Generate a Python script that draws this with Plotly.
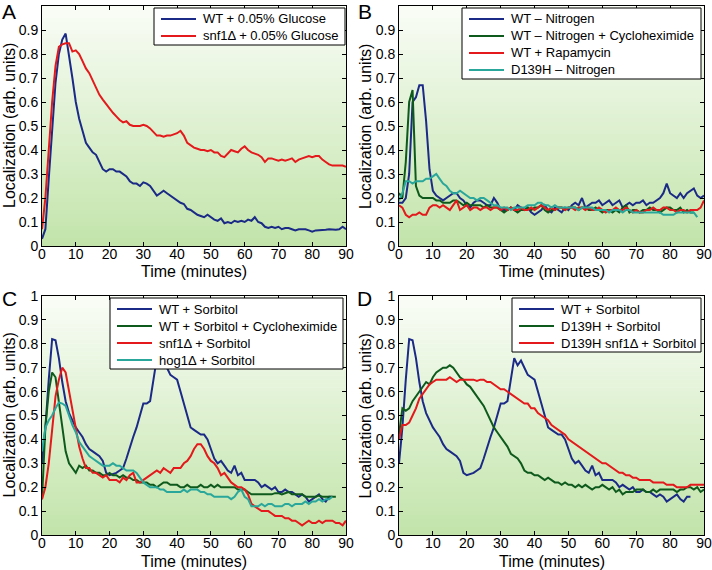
import plotly.graph_objects as go

# ---------------- data ----------------
A_wt = [0.03,0.07,0.28,0.50,0.68,0.80,0.86,0.885,0.80,0.70,
        0.60,0.53,0.48,0.43,0.41,0.39,0.38,0.35,0.32,0.31,
        0.32,0.32,0.31,0.31,0.30,0.29,0.27,0.26,0.26,0.25,
        0.265,0.26,0.25,0.23,0.21,0.22,0.23,0.22,0.21,0.20,
        0.19,0.18,0.175,0.155,0.15,0.14,0.13,0.125,0.12,0.13,
        0.12,0.11,0.105,0.115,0.095,0.10,0.095,0.105,0.10,0.105,
        0.10,0.11,0.105,0.12,0.10,0.095,0.08,0.075,0.08,0.075,
        0.08,0.07,0.075,0.075,0.07,0.065,0.07,0.07,0.07,0.065,
        0.06,0.065,0.065,0.065,0.068,0.07,0.068,0.068,0.07,0.08,0.07]
A_snf1 = [0.07,0.20,0.40,0.60,0.75,0.83,0.84,0.845,0.845,0.81,
          0.815,0.80,0.77,0.74,0.72,0.69,0.66,0.63,0.61,0.59,
          0.57,0.555,0.54,0.525,0.515,0.52,0.505,0.50,0.50,0.50,
          0.505,0.50,0.49,0.475,0.46,0.46,0.455,0.46,0.46,0.465,
          0.47,0.48,0.46,0.43,0.42,0.41,0.405,0.40,0.40,0.395,
          0.40,0.39,0.39,0.375,0.37,0.385,0.40,0.395,0.39,0.405,
          0.415,0.40,0.39,0.385,0.38,0.37,0.35,0.365,0.365,0.36,
          0.355,0.36,0.355,0.36,0.365,0.35,0.36,0.365,0.37,0.375,
          0.37,0.375,0.375,0.36,0.35,0.34,0.335,0.335,0.335,0.335,0.33]

B_wt = [0.18,0.18,0.20,0.30,0.60,0.62,0.67,0.67,0.52,0.32,
        0.23,0.21,0.20,0.19,0.20,0.21,0.22,0.22,0.20,0.19,
        0.17,0.16,0.18,0.19,0.19,0.18,0.17,0.17,0.20,0.18,
        0.15,0.15,0.15,0.16,0.15,0.17,0.16,0.15,0.16,0.14,
        0.13,0.14,0.15,0.17,0.15,0.14,0.16,0.15,0.14,0.16,
        0.15,0.17,0.18,0.17,0.20,0.16,0.17,0.18,0.18,0.19,
        0.17,0.18,0.19,0.17,0.18,0.19,0.16,0.17,0.18,0.17,
        0.18,0.18,0.19,0.17,0.18,0.18,0.19,0.20,0.22,0.26,
        0.22,0.21,0.20,0.22,0.20,0.22,0.23,0.24,0.21,0.20,0.21]
B_cyc = [0.22,0.20,0.35,0.60,0.65,0.25,0.21,0.20,0.20,0.20,
         0.20,0.19,0.19,0.18,0.18,0.18,0.19,0.19,0.18,0.17,
         0.18,0.17,0.17,0.17,0.17,0.16,0.17,0.16,0.16,0.16,
         0.15,0.14,0.15,0.16,0.15,0.14,0.15,0.15,0.16,0.15,
         0.16,0.16,0.17,0.15,0.14,0.15,0.15,0.16,0.16,0.15,
         0.16,0.16,0.16,0.15,0.16,0.16,0.15,0.15,0.16,0.15,
         0.14,0.15,0.15,0.14,0.15,0.14,0.16,0.17,0.14,0.15,
         0.15,0.14,0.15,0.15,0.16,0.15,0.15,0.14,0.15,0.16,
         0.16,0.15,0.15,0.16,0.14,0.15,0.14,0.14]
B_rap = [0.17,0.16,0.13,0.12,0.13,0.13,0.14,0.13,0.13,0.16,
         0.17,0.17,0.16,0.17,0.16,0.15,0.17,0.19,0.15,0.16,
         0.17,0.15,0.16,0.16,0.15,0.16,0.16,0.15,0.16,0.16,
         0.15,0.16,0.15,0.16,0.15,0.15,0.16,0.15,0.15,0.16,
         0.15,0.16,0.17,0.16,0.15,0.16,0.15,0.16,0.16,0.15,
         0.16,0.16,0.15,0.16,0.16,0.15,0.16,0.15,0.15,0.16,
         0.15,0.14,0.15,0.15,0.16,0.15,0.15,0.16,0.15,0.14,
         0.15,0.14,0.14,0.15,0.15,0.16,0.15,0.15,0.16,0.16,
         0.15,0.15,0.14,0.15,0.15,0.14,0.15,0.15,0.15,0.16,0.19]
B_d139 = [0.19,0.22,0.27,0.27,0.26,0.27,0.27,0.27,0.28,0.28,
          0.29,0.30,0.28,0.26,0.25,0.23,0.22,0.22,0.23,0.22,
          0.21,0.20,0.20,0.19,0.20,0.20,0.19,0.18,0.17,0.17,
          0.16,0.16,0.16,0.15,0.16,0.16,0.16,0.16,0.17,0.17,
          0.17,0.18,0.18,0.17,0.17,0.16,0.17,0.16,0.16,0.16,
          0.16,0.16,0.16,0.15,0.16,0.16,0.16,0.16,0.15,0.15,
          0.15,0.15,0.14,0.15,0.15,0.15,0.14,0.15,0.15,0.14,
          0.14,0.14,0.14,0.14,0.14,0.14,0.14,0.14,0.13,0.13,
          0.13,0.13,0.14,0.14,0.14,0.14,0.14,0.14,0.12]

WT_sorb = [0.30,0.45,0.65,0.82,0.815,0.74,0.64,0.56,0.51,0.48,
           0.45,0.43,0.41,0.38,0.36,0.35,0.34,0.33,0.31,0.26,
           0.25,0.255,0.26,0.27,0.28,0.32,0.37,0.41,0.45,0.50,
           0.55,0.55,0.56,0.65,0.74,0.71,0.73,0.70,0.67,0.66,
           0.65,0.60,0.55,0.50,0.45,0.44,0.43,0.42,0.42,0.40,
           0.36,0.32,0.30,0.31,0.29,0.27,0.26,0.29,0.25,0.26,
           0.23,0.23,0.23,0.23,0.22,0.20,0.21,0.20,0.19,0.20,
           0.18,0.18,0.19,0.18,0.18,0.17,0.16,0.17,0.16,0.14,
           0.15,0.16,0.17,0.15,0.14,0.16,0.16]
C_cyc = [0.15,0.45,0.60,0.68,0.66,0.55,0.45,0.35,0.30,0.28,
         0.26,0.29,0.28,0.29,0.27,0.27,0.26,0.26,0.25,0.25,
         0.26,0.25,0.25,0.24,0.25,0.24,0.24,0.23,0.23,0.22,
         0.22,0.22,0.21,0.21,0.20,0.21,0.22,0.22,0.21,0.21,
         0.21,0.20,0.20,0.21,0.20,0.20,0.20,0.21,0.20,0.20,
         0.21,0.20,0.21,0.20,0.20,0.20,0.20,0.20,0.19,0.19,
         0.19,0.18,0.17,0.17,0.17,0.17,0.17,0.17,0.17,0.175,
         0.175,0.17,0.175,0.18,0.17,0.17,0.17,0.17,0.16,0.16,
         0.16,0.16,0.165,0.16,0.16,0.16,0.16,0.16]
C_snf1 = [0.15,0.20,0.30,0.45,0.58,0.65,0.70,0.68,0.60,0.52,
          0.45,0.37,0.32,0.28,0.28,0.26,0.26,0.25,0.24,0.25,
          0.23,0.23,0.23,0.22,0.24,0.23,0.25,0.26,0.22,0.22,
          0.23,0.24,0.25,0.26,0.27,0.26,0.28,0.27,0.26,0.28,
          0.28,0.28,0.30,0.31,0.33,0.36,0.38,0.38,0.36,0.33,
          0.31,0.30,0.28,0.25,0.26,0.24,0.22,0.21,0.20,0.20,
          0.19,0.17,0.13,0.12,0.11,0.10,0.10,0.10,0.09,0.08,
          0.08,0.08,0.07,0.07,0.06,0.06,0.05,0.04,0.05,0.06,
          0.05,0.05,0.06,0.05,0.06,0.06,0.06,0.05,0.05,0.04,0.06]
C_hog1 = [0.35,0.45,0.48,0.50,0.53,0.555,0.55,0.54,0.50,0.46,
          0.43,0.39,0.37,0.35,0.33,0.32,0.31,0.30,0.29,0.29,
          0.29,0.30,0.29,0.29,0.28,0.27,0.27,0.27,0.26,0.24,
          0.22,0.21,0.20,0.20,0.20,0.19,0.19,0.18,0.18,0.18,
          0.18,0.18,0.19,0.18,0.19,0.19,0.19,0.18,0.18,0.17,
          0.17,0.16,0.16,0.16,0.16,0.16,0.15,0.16,0.18,0.19,
          0.16,0.15,0.12,0.12,0.12,0.13,0.12,0.13,0.13,0.12,
          0.12,0.12,0.13,0.13,0.12,0.13,0.13,0.13,0.14,0.13,
          0.14,0.14,0.15,0.14,0.15,0.15,0.16]

D_d139 = [0.42,0.53,0.52,0.53,0.56,0.58,0.60,0.62,0.64,0.63,
          0.66,0.68,0.69,0.70,0.70,0.71,0.70,0.68,0.66,0.65,
          0.63,0.62,0.60,0.58,0.56,0.54,0.51,0.48,0.45,0.43,
          0.41,0.39,0.37,0.34,0.33,0.32,0.30,0.27,0.26,0.26,
          0.25,0.25,0.24,0.23,0.24,0.23,0.22,0.22,0.21,0.22,
          0.21,0.21,0.20,0.21,0.20,0.21,0.20,0.19,0.20,0.20,
          0.21,0.20,0.19,0.20,0.18,0.19,0.17,0.18,0.18,0.18,
          0.19,0.19,0.19,0.18,0.18,0.19,0.18,0.19,0.19,0.19,
          0.19,0.19,0.18,0.19,0.19,0.20,0.20,0.19,0.20,0.18,0.19]
D_snf1 = [0.40,0.46,0.46,0.47,0.50,0.53,0.57,0.59,0.61,0.63,
          0.64,0.65,0.65,0.65,0.65,0.66,0.65,0.64,0.65,0.65,
          0.65,0.65,0.65,0.645,0.65,0.65,0.64,0.64,0.63,0.62,
          0.61,0.61,0.60,0.59,0.58,0.57,0.56,0.55,0.55,0.53,
          0.53,0.51,0.50,0.49,0.48,0.46,0.45,0.44,0.43,0.42,
          0.40,0.39,0.38,0.37,0.36,0.35,0.34,0.33,0.32,0.31,
          0.30,0.30,0.29,0.28,0.27,0.26,0.26,0.25,0.25,0.24,
          0.24,0.23,0.23,0.23,0.23,0.22,0.22,0.22,0.22,0.21,
          0.21,0.21,0.20,0.20,0.20,0.20,0.21,0.21,0.21,0.21,0.21]

x_ticks = [0, 10, 20, 30, 40, 50, 60, 70, 80, 90]
y_ticks = [0, 0.1, 0.2, 0.3, 0.4, 0.5, 0.6, 0.7, 0.8, 0.9, 1]
y_tick_text = ["0", "0.1", "0.2", "0.3", "0.4", "0.5", "0.6", "0.7", "0.8", "0.9", "1"]
x_title = "Time (minutes)"
y_title = "Localization (arb. units)"

BLUE = "#1b2a86"
GREEN = "#0e5a1c"
RED = "#e3191b"
TEAL = "#2aa79b"

panels = [
    ("A", [("WT + 0.05% Glucose", A_wt, BLUE), ("snf1Δ + 0.05% Glucose", A_snf1, RED)]),
    ("B", [("WT – Nitrogen", B_wt, BLUE), ("WT – Nitrogen + Cycloheximide", B_cyc, GREEN),
           ("WT + Rapamycin", B_rap, RED), ("D139H – Nitrogen", B_d139, TEAL)]),
    ("C", [("WT + Sorbitol", WT_sorb, BLUE), ("WT + Sorbitol + Cycloheximide", C_cyc, GREEN),
           ("snf1Δ + Sorbitol", C_snf1, RED), ("hog1Δ + Sorbitol", C_hog1, TEAL)]),
    ("D", [("WT + Sorbitol", WT_sorb, BLUE), ("D139H + Sorbitol", D_d139, GREEN),
           ("D139H snf1Δ + Sorbitol", D_snf1, RED)]),
]

W, H = 712, 570
FONT = "Liberation Sans, Arial, Helvetica, sans-serif"

# pixel boxes (left, right, top, bottom)
boxes = [(42, 346, 6, 246), (399, 704, 6, 246), (42, 346, 296, 535), (399, 704, 296, 535)]
letter_pos = [(9, 12), (365, 12), (9, 298), (364, 298)]
ytitle_x = [9, 365, 9, 365]
# legend boxes in pixels (left, right, top)
leg_boxes = [(154, 345, 8), (462, 701, 8), (110, 343, 298), (512, 701, 298)]
LEG_ROW = 17


def px(xp):
    return xp / W


def py(yp):
    return 1 - yp / H


fig = go.Figure()
layout = dict(width=W, height=H, margin=dict(l=0, r=0, t=0, b=0, autoexpand=False),
              paper_bgcolor="white", plot_bgcolor="white", showlegend=False,
              font=dict(family=FONT, color="black"))
shapes = []
annotations = []

top_c = (250, 253, 247)
bot_c = (194, 228, 170)
NSTRIP = 60

for i, (letter, series) in enumerate(panels):
    n = i + 1
    sx = "" if n == 1 else str(n)
    l, r, t, b = boxes[i]
    xdom = [px(l), px(r)]
    ydom = [py(b), py(t)]
    for name, vals, col in series:
        fig.add_trace(go.Scatter(
            x=list(range(len(vals))), y=vals, mode="lines", name=name,
            line=dict(color=col, width=2), xaxis="x" + sx, yaxis="y" + sx))
    layout["xaxis" + sx] = dict(
        domain=xdom, anchor="y" + sx, range=[0, 90], tickvals=x_ticks,
        ticks="inside", ticklen=4, tickcolor="black", showline=True, linecolor="black",
        linewidth=1, mirror="ticks", showgrid=False, zeroline=False, automargin=False,
        ticklabelstandoff=-5, tickfont=dict(size=14, family=FONT))
    layout["yaxis" + sx] = dict(
        domain=ydom, anchor="x" + sx, range=[0, 1], tickvals=y_ticks, ticktext=y_tick_text,
        ticks="inside", ticklen=4, tickcolor="black", showline=True, linecolor="black",
        linewidth=1, mirror="ticks", showgrid=False, zeroline=False, automargin=False,
        tickfont=dict(size=14, family=FONT))
    xr = "x domain" if n == 1 else f"x{n} domain"
    yr = "y domain" if n == 1 else f"y{n} domain"
    for k in range(NSTRIP):
        f = (k + 0.5) / NSTRIP
        c = tuple(int(round(bot_c[j] + (top_c[j] - bot_c[j]) * f)) for j in range(3))
        shapes.append(dict(type="rect", xref=xr, yref=yr, x0=0, x1=1,
                           y0=k / NSTRIP, y1=(k + 1) / NSTRIP + 0.002,
                           fillcolor=f"rgb{c}", line=dict(width=0), layer="below"))
    # legend box (drawn above the data)
    ll, lr, lt = leg_boxes[i]
    lb = lt + 11 + LEG_ROW * (len(series) - 1) + 9
    shapes.append(dict(type="rect", xref="paper", yref="paper", x0=px(ll), x1=px(lr),
                       y0=py(lb), y1=py(lt), fillcolor="white",
                       line=dict(color="black", width=1), layer="above"))
    for j, (name, vals, col) in enumerate(series):
        yc = lt + 11 + LEG_ROW * j
        shapes.append(dict(type="line", xref="paper", yref="paper", x0=px(ll + 7),
                           x1=px(ll + 42), y0=py(yc), y1=py(yc),
                           line=dict(color=col, width=2), layer="above"))
        annotations.append(dict(text=name, x=px(ll + 47), y=py(yc), xref="paper",
                                yref="paper", showarrow=False, xanchor="left",
                                yanchor="middle", font=dict(size=13, family=FONT)))
    lx, ly = letter_pos[i]
    annotations.append(dict(text=letter, x=px(lx), y=py(ly), xref="paper", yref="paper",
                            showarrow=False, font=dict(size=21, family=FONT),
                            xanchor="center", yanchor="middle"))
    # axis titles
    annotations.append(dict(text=x_title, x=px((l + r) / 2), y=py(b + 26),
                            xref="paper", yref="paper", showarrow=False,
                            font=dict(size=16, family=FONT), xanchor="center", yanchor="middle"))
    annotations.append(dict(text=y_title, x=px(ytitle_x[i]), y=py((t + b) / 2),
                            xref="paper", yref="paper", showarrow=False, textangle=-90,
                            font=dict(size=16, family=FONT), xanchor="center", yanchor="middle"))

layout["shapes"] = shapes
layout["annotations"] = annotations
fig.update_layout(**layout)
fig.write_html("out.html", config={"displayModeBar": False},
               post_script="document.body.style.margin='0';document.body.style.overflow='hidden';")
